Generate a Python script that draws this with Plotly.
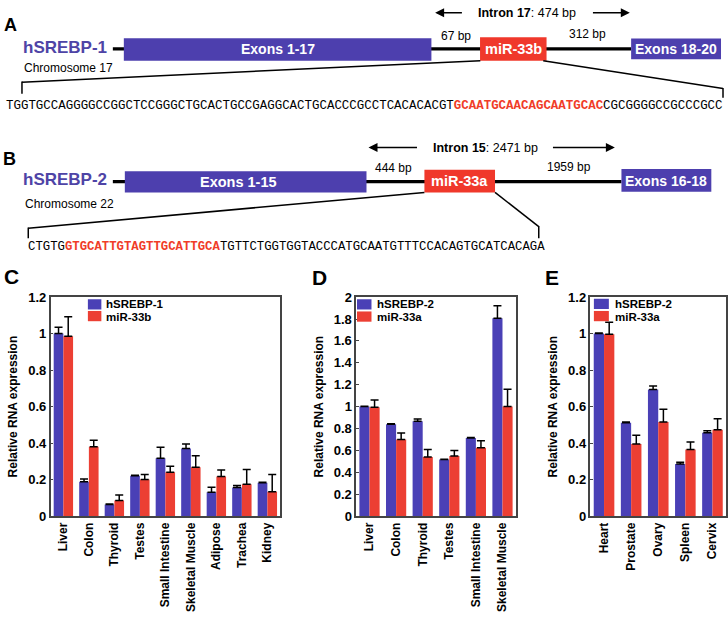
import plotly.graph_objects as go

W, H = 728, 620

# ---------------- data ----------------
c_tissues = ["Liver", "Colon", "Thyroid", "Testes", "Small Intestine",
             "Skeletal Muscle", "Adipose", "Trachea", "Kidney"]
c_series = ["hSREBP-1", "miR-33b"]
c_host = [1.00, 0.188, 0.063, 0.221, 0.317, 0.371, 0.131, 0.156, 0.183]
c_host_err = [0.035, 0.015, 0.003, 0.003, 0.060, 0.024, 0.027, 0.012, 0.003]
c_mir = [0.985, 0.380, 0.086, 0.201, 0.240, 0.267, 0.217, 0.174, 0.133]
c_mir_err = [0.107, 0.036, 0.029, 0.027, 0.033, 0.063, 0.036, 0.081, 0.095]

d_tissues = ["Liver", "Colon", "Thyroid", "Testes", "Small Intestine", "Skeletal Muscle"]
d_series = ["hSREBP-2", "miR-33a"]
d_host = [1.00, 0.839, 0.866, 0.516, 0.713, 1.806]
d_host_err = [0.004, 0.004, 0.021, 0.004, 0.004, 0.116]
d_mir = [0.994, 0.700, 0.540, 0.549, 0.624, 1.000]
d_mir_err = [0.066, 0.058, 0.069, 0.051, 0.063, 0.158]

e_tissues = ["Heart", "Prostate", "Ovary", "Spleen", "Cervix"]
e_series = ["hSREBP-2", "miR-33a"]
e_host = [1.00, 0.511, 0.694, 0.285, 0.457]
e_host_err = [0.003, 0.004, 0.019, 0.010, 0.011]
e_mir = [0.996, 0.395, 0.516, 0.365, 0.473]
e_mir_err = [0.066, 0.048, 0.069, 0.041, 0.061]

seq_a_pre = "TGGTGCCAGGGGCCGGCTCCGGGCTGCACTGCCGAGGCACTGCACCCGCCTCACACACGT"
seq_a_mir = "GCAATGCAACAGCAATGCAC"
seq_a_post = "CGCGGGGCCGCCCGCC"
seq_b_pre = "CTGTG"
seq_b_mir = "GTGCATTGTAGTTGCATTGCA"
seq_b_post = "TGTTCTGGTGGTACCCATGCAATGTTTCCACAGTGCATCACAGA"

BLUE = "#4a40b6"
RED = "#ec3f33"
BOX_BLUE = "#4d3fae"
BOX_RED = "#f0382b"
GENE_TXT = "#4e44a6"
SANS = "Liberation Sans, Arial, Helvetica, sans-serif"
MONO = "Liberation Mono, Courier New, monospace"


def px(x):
    return x / W


def py(y):
    return 1 - y / H


fig = go.Figure()


def add_pair(cats, host, host_err, mir, mir_err, names, xa, ya):
    for vals, errs, col, nm in [(host, host_err, BLUE, names[0]), (mir, mir_err, RED, names[1])]:
        fig.add_trace(go.Bar(
            x=cats, y=vals, name=nm, marker=dict(color=col, line=dict(width=0)),
            error_y=dict(type="data", symmetric=False, array=errs, arrayminus=[0] * len(errs),
                         color="black", thickness=1.5, width=4),
            xaxis=xa, yaxis=ya, showlegend=False))


add_pair(c_tissues, c_host, c_host_err, c_mir, c_mir_err, c_series, "x", "y")
add_pair(d_tissues, d_host, d_host_err, d_mir, d_mir_err, d_series, "x2", "y2")
add_pair(e_tissues, e_host, e_host_err, e_mir, e_mir_err, e_series, "x3", "y3")

ydom = [py(521.7), py(297.3)]
common_x = dict(showline=True, mirror=True, linecolor="#444", linewidth=1.5, ticks="",
                tickangle=-90, tickfont=dict(family=SANS, size=12, color="black", weight="bold"),
                showgrid=False, fixedrange=True)
common_y = dict(showline=True, mirror=True, linecolor="#444", linewidth=1.5, ticks="inside",
                ticklen=3, tickcolor="#444", dtick=0.2, showgrid=False, zeroline=False,
                tickfont=dict(family=SANS, size=13, color="black", weight="bold"),
                title=dict(text="Relative RNA expression",
                           font=dict(family=SANS, size=12, color="black", weight="bold"),
                           standoff=8))

fig.update_layout(
    width=W, height=H, autosize=False,
    margin=dict(l=0, r=0, t=0, b=0),
    paper_bgcolor="white", plot_bgcolor="white",
    barmode="group", bargap=0.24, bargroupgap=0,
    showlegend=False,
    xaxis=dict(domain=[px(50.7), px(280.5)], anchor="y", **common_x),
    yaxis=dict(domain=ydom, anchor="x", range=[0, 1.2], **common_y),
    xaxis2=dict(domain=[px(356.7), px(516.5)], anchor="y2", **common_x),
    yaxis2=dict(domain=ydom, anchor="x2", range=[0, 2.0], **common_y),
    xaxis3=dict(domain=[px(591.3), px(727)], anchor="y3", **common_x),
    yaxis3=dict(domain=ydom, anchor="x3", range=[0, 1.2], **common_y),
)

shapes = []
ann = []


def line(x0, y0, x1, y1, w=1.5, color="black"):
    shapes.append(dict(type="line", xref="paper", yref="paper", x0=px(x0), y0=py(y0),
                       x1=px(x1), y1=py(y1), line=dict(color=color, width=w)))


def rect(x0, y0, x1, y1, color):
    shapes.append(dict(type="rect", xref="paper", yref="paper", x0=px(x0), y0=py(y0),
                       x1=px(x1), y1=py(y1), fillcolor=color, line=dict(width=0)))


def text(x, y, t, size, color="black", anchor="center", bold=False, family=SANS):
    ann.append(dict(xref="paper", yref="paper", x=px(x), y=py(y), text=t, showarrow=False,
                    xanchor=anchor, yanchor="middle", borderpad=0,
                    font=dict(family=family, size=size, color=color,
                              weight="bold" if bold else "normal")))


def arrow(xh, xt, y):
    ann.append(dict(xref="paper", yref="paper", x=px(xh), y=py(y), ax=xt - xh, ay=0,
                    text="", showarrow=True, arrowhead=2, arrowsize=1.2, arrowwidth=1.5,
                    arrowcolor="black"))


# ---------------- panel A diagram ----------------
line(113, 43, 632, 43, w=3.2)
rect(124, 32, 432, 55, BOX_BLUE)
rect(480.7, 31, 547.3, 55, BOX_RED)
rect(632, 32.3, 722, 53.5, BOX_BLUE)
text(278, 43.5, "<b>Exons 1-17</b>", 14, "white")
text(514, 43.5, "<b>miR-33b</b>", 14.5, "white")
text(677, 43, "<b>Exons 18-20</b>", 14, "white")
text(22, 42, "<b>hSREBP-1</b>", 17, GENE_TXT, anchor="left")
text(23, 62.5, "Chromosome 17", 12, anchor="left")
text(457, 30, "67 bp", 12)
text(588, 28, "312 bp", 12)
text(527.5, 6, "<b>Intron 17</b>: 474 bp", 12.5)
arrow(435.7, 464, 6)
arrow(630.7, 592.3, 6)
line(22, 77, 481, 55)
line(22, 76.3, 22, 89)
line(544, 55, 724, 83.5)
line(724, 83, 724, 93)
text(5, 101, seq_a_pre + "<span style='color:#f03c28'><b>" + seq_a_mir + "</b></span>" + seq_a_post,
     12.45, anchor="left", family=MONO)
text(11, 18.5, "<b>A</b>", 18, anchor="center")

# ---------------- panel B diagram ----------------
line(113, 179, 622.3, 179, w=3.2)
rect(125, 168.3, 367, 190, BOX_BLUE)
rect(425, 166.7, 495.7, 190, BOX_RED)
rect(622.3, 166, 712.3, 189.3, BOX_BLUE)
text(239, 179, "<b>Exons 1-15</b>", 14.5, "white")
text(460.5, 178.5, "<b>miR-33a</b>", 14.5, "white")
text(667, 178, "<b>Exons 16-18</b>", 14, "white")
text(22, 176.5, "<b>hSREBP-2</b>", 17, GENE_TXT, anchor="left")
text(24, 201.5, "Chromosome 22", 12, anchor="left")
text(394, 165, "444 bp", 12)
text(569.5, 164, "1959 bp", 12)
text(485.7, 144, "<b>Intron 15</b>: 2471 bp", 12.5)
arrow(369, 419, 144)
arrow(615.7, 552.3, 144)
line(28.3, 226.7, 425, 190)
line(28.3, 226, 28.3, 237)
line(495.7, 190, 539.5, 225)
line(539.5, 224.5, 539.5, 237)
text(26.7, 246, seq_b_pre + "<span style='color:#f03c28'><b>" + seq_b_mir + "</b></span>" + seq_b_post,
     12.3, anchor="left", family=MONO)
text(10, 156, "<b>B</b>", 18, anchor="center")

# ---------------- panel letters C/D/E ----------------
text(11.5, 276.5, "<b>C</b>", 21)
text(320, 277.5, "<b>D</b>", 21)
text(552.5, 277.5, "<b>E</b>", 21)

# ---------------- manual legends ----------------
legends = [
    (88, 101.5, 299.5, 310, 311.5, 322, 105, c_series),
    (357.5, 372, 299.5, 310, 312, 322.5, 376.5, d_series),
    (594.7, 609.7, 299, 309.5, 311.5, 322, 614.5, e_series),
]
for x0, x1, b0, b1, r0, r1, tx, names in legends:
    rect(x0, b0, x1, b1, BLUE)
    rect(x0, r0, x1, r1, RED)
    text(tx, (b0 + b1) / 2, "<b>" + names[0] + "</b>", 11.5, anchor="left")
    text(tx, (r0 + r1) / 2 + 0.5, "<b>" + names[1] + "</b>", 11.5, anchor="left")

fig.update_layout(shapes=shapes, annotations=ann)
fig.write_html("out.html", config={"displayModeBar": False},
               post_script="document.body.style.margin='0';document.body.style.overflow='hidden';")
